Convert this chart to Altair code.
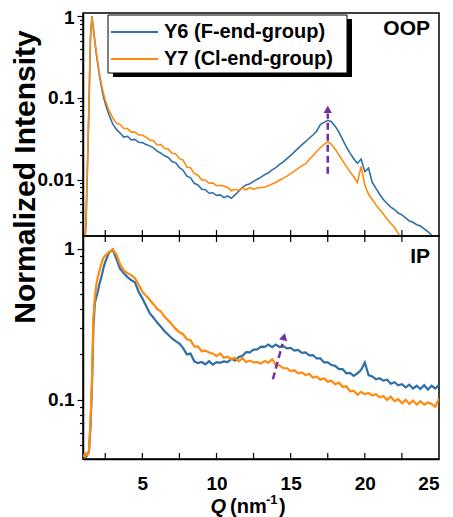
import altair as alt
import pandas as pd

FONT = "Liberation Sans"
BLUE = "#2e6fa8"
ORANGE = "#ff8a0d"
PURPLE = "#7030a0"
SERIES = ["Y6 (F-end-group)", "Y7 (Cl-end-group)"]

# Q sampling grid (nm^-1)
Q_FINE = [1.0, 1.1, 1.2, 1.3, 1.4, 1.5, 1.6, 1.7, 1.8, 1.9, 2.0, 2.1, 2.2, 2.3, 2.4, 2.5]
Q_COARSE = [round(2.75 + 0.25 * i, 2) for i in range(90)]
Q = Q_FINE + Q_COARSE

# OOP (top panel)
OOP_Y6 = [0.0012, 0.0015, 0.0028, 0.014, 0.075, 0.52, 0.99, 0.7, 0.48, 0.34, 0.255, 0.19, 0.15, 0.12, 0.1, 0.085,
          0.062, 0.048, 0.041, 0.037, 0.033, 0.0338, 0.0305, 0.031, 0.0285, 0.0283,
          0.0268, 0.0258, 0.0244, 0.0222, 0.021, 0.0195, 0.0186, 0.0166, 0.016, 0.014,
          0.013, 0.011, 0.0105, 0.009, 0.0086, 0.0076, 0.0075, 0.0068, 0.0069, 0.0064,
          0.0065, 0.006, 0.0063, 0.0059, 0.0065, 0.0072, 0.008, 0.0086, 0.0089, 0.0095,
          0.0101, 0.0107, 0.0115, 0.0121, 0.0131, 0.014, 0.0153, 0.0164, 0.018, 0.0197,
          0.0218, 0.024, 0.0265, 0.029, 0.032, 0.035, 0.039, 0.047, 0.05, 0.053,
          0.051, 0.045, 0.038, 0.031, 0.025, 0.021, 0.018, 0.0158, 0.0178, 0.0125,
          0.0138, 0.0092, 0.0078, 0.0066, 0.0057, 0.0051, 0.0046, 0.0043, 0.0039, 0.0037,
          0.0034, 0.0031, 0.003, 0.0028, 0.0027, 0.0025, 0.0023, 0.0021, 0.0019, 0.0018]
OOP_Y7 = [0.0012, 0.0015, 0.003, 0.015, 0.08, 0.55, 0.97, 0.72, 0.5, 0.36, 0.27, 0.2, 0.16, 0.13, 0.11, 0.093,
          0.07, 0.057, 0.049, 0.047, 0.042, 0.042, 0.038, 0.038, 0.035, 0.035,
          0.033, 0.0305, 0.0298, 0.0265, 0.0268, 0.024, 0.0237, 0.021, 0.0206, 0.018,
          0.0173, 0.0142, 0.0139, 0.0119, 0.0113, 0.0099, 0.0098, 0.009, 0.0091, 0.0084,
          0.0085, 0.0083, 0.008, 0.0073, 0.0076, 0.0074, 0.0079, 0.0075, 0.008, 0.0076,
          0.0079, 0.008, 0.0081, 0.0084, 0.0088, 0.0092, 0.0098, 0.0104, 0.011, 0.0118,
          0.0127, 0.0137, 0.0147, 0.0155, 0.0175, 0.0195, 0.022, 0.0245, 0.027, 0.029,
          0.027, 0.0235, 0.02, 0.017, 0.0145, 0.0125, 0.0108, 0.0092, 0.0145, 0.0085,
          0.0066, 0.0057, 0.0049, 0.0043, 0.0038, 0.0033, 0.0029, 0.0026, 0.0022, 0.0018,
          0.0015, 0.0013, 0.0012, 0.0011, 0.001, 0.001, 0.001, 0.001, 0.001, 0.001]

# IP (bottom panel)
IP_Y6 = [0.044, 0.043, 0.042, 0.044, 0.045, 0.065, 0.12, 0.3, 0.44, 0.48, 0.52, 0.58, 0.63, 0.69, 0.76, 0.82,
         0.94, 0.99, 0.86, 0.74, 0.69, 0.65, 0.62, 0.6, 0.52, 0.47,
         0.42, 0.375, 0.35, 0.325, 0.305, 0.285, 0.27, 0.255, 0.245, 0.236,
         0.22, 0.2, 0.203, 0.18, 0.175, 0.178, 0.172, 0.18, 0.171, 0.178,
         0.176, 0.18, 0.178, 0.187, 0.182, 0.192, 0.196, 0.207, 0.206, 0.215,
         0.216, 0.225, 0.224, 0.232, 0.223, 0.232, 0.224, 0.227, 0.219, 0.221,
         0.212, 0.214, 0.205, 0.206, 0.197, 0.198, 0.188, 0.188, 0.177, 0.177,
         0.17, 0.168, 0.16, 0.16, 0.15, 0.151, 0.144, 0.15, 0.158, 0.177,
         0.146, 0.143, 0.137, 0.139, 0.134, 0.136, 0.128, 0.131, 0.125, 0.127,
         0.121, 0.126, 0.119, 0.124, 0.118, 0.125, 0.117, 0.124, 0.119, 0.126]
IP_Y7 = [0.043, 0.042, 0.044, 0.043, 0.046, 0.07, 0.13, 0.35, 0.48, 0.58, 0.65, 0.71, 0.77, 0.83, 0.88, 0.9,
         0.95, 0.985, 0.92, 0.79, 0.72, 0.69, 0.67, 0.64, 0.58, 0.52,
         0.49, 0.46, 0.43, 0.40, 0.385, 0.355, 0.335, 0.315, 0.295, 0.28,
         0.272, 0.252, 0.248, 0.225, 0.226, 0.21, 0.212, 0.206, 0.203, 0.195,
         0.203, 0.19, 0.193, 0.186, 0.19, 0.18, 0.189, 0.178, 0.182, 0.177,
         0.178, 0.174, 0.181, 0.176, 0.186, 0.17, 0.169, 0.162, 0.162, 0.155,
         0.157, 0.15, 0.152, 0.146, 0.149, 0.14, 0.143, 0.136, 0.139, 0.132,
         0.134, 0.127, 0.13, 0.122, 0.123, 0.114, 0.115, 0.108, 0.113, 0.109,
         0.111, 0.107, 0.109, 0.104, 0.106, 0.1, 0.105, 0.098, 0.101, 0.095,
         0.1, 0.094, 0.099, 0.093, 0.098, 0.093, 0.096, 0.094, 0.09, 0.102]

# arrows (Q, intensity)
OOP_ARROW_Q = [17.5, 17.5]
OOP_ARROW_V = [0.0118, 0.064]
OOP_HEAD = {"q": [17.5], "v": [0.072]}
IP_ARROW_Q = [13.8, 14.45]
IP_ARROW_V = [0.137, 0.235]
IP_HEAD = {"q": [14.55], "v": [0.262]}

X_DOMAIN = [1, 25]
OOP_DOMAIN = [0.00204, 1.087]
IP_DOMAIN = [0.0406, 1.216]
X_LABELS = [5, 10, 15, 20, 25]
X_TICKS = [2.5, 5, 7.5, 10, 12.5, 15, 17.5, 20, 22.5]
OOP_YTICKS = [0.003, 0.004, 0.005, 0.006, 0.007, 0.008, 0.009,
              0.01, 0.02, 0.03, 0.04, 0.05, 0.06, 0.07, 0.08, 0.09,
              0.1, 0.2, 0.3, 0.4, 0.5, 0.6, 0.7, 0.8, 0.9, 1]
IP_YTICKS = [0.05, 0.06, 0.07, 0.08, 0.09,
             0.1, 0.2, 0.3, 0.4, 0.5, 0.6, 0.7, 0.8, 0.9, 1]

W, H = 356, 223

xscale = alt.Scale(domain=X_DOMAIN, nice=False, zero=False)


def yaxis(values, majors, top_nudge=0):
    test = " || ".join(f"datum.value == {m}" for m in majors)
    expr = " : ".join(f"datum.value == {m} ? '{m}'" for m in majors) + " : ''"
    extra = {}
    if top_nudge:
        extra["labelOffset"] = {"condition": {"test": "datum.value == 1", "value": top_nudge}, "value": 0}
    return alt.Axis(values=values, labelExpr=expr, labelOverlap=False,
                    tickSize={"condition": {"test": test, "value": 6}, "value": 3.5},
                    tickColor="black", tickWidth=1.2, labelFontSize=19, labelFontWeight="bold",
                    labelFont=FONT, labelPadding=3, title=None, grid=False, labelColor="black",
                    domainColor="black", domainWidth=1.5, **extra)


def panel(y6, y7, ydomain, yax, xax, arrow_q, arrow_v, head, head_angle, label, label_y, width6, width7):
    yscale = alt.Scale(type="log", domain=ydomain, nice=False)
    df6 = pd.DataFrame({"q": Q, "v": y6})
    df7 = pd.DataFrame({"q": Q, "v": y7})
    X = alt.X("q:Q", scale=xscale, axis=xax)
    Y = alt.Y("v:Q", scale=yscale, axis=yax)
    l6 = alt.Chart(df6).mark_line(color=BLUE, strokeWidth=width6, clip=True).encode(x=X, y=Y)
    l7 = alt.Chart(df7).mark_line(color=ORANGE, strokeWidth=width7, clip=True).encode(x=X, y=Y)
    arr = alt.Chart(pd.DataFrame({"q": arrow_q, "v": arrow_v})).mark_line(
        color=PURPLE, strokeWidth=2.5, strokeDash=[7, 4]).encode(x=X, y=Y)
    hd = alt.Chart(pd.DataFrame(head)).mark_point(
        shape="triangle-up", filled=True, color=PURPLE, size=70, opacity=1, angle=head_angle).encode(x=X, y=Y)
    txt = alt.Chart(pd.DataFrame({"a": [0]})).mark_text(
        text=label, font=FONT, fontSize=21, fontWeight="bold", align="right", baseline="middle",
        color="black").encode(x=alt.value(W - 9), y=alt.value(label_y))
    return [l6, l7, arr, hd, txt], X


# ---------- top panel ----------
top_layers, Xt = panel(OOP_Y6, OOP_Y7, OOP_DOMAIN, yaxis(OOP_YTICKS, [1, 0.1, 0.01], top_nudge=2), None,
                       OOP_ARROW_Q, OOP_ARROW_V, OOP_HEAD, 0, "OOP", 16, 1.6, 1.6)
dummy = pd.DataFrame({"a": [0]})
ticks_top = alt.Chart(pd.DataFrame({"q": X_TICKS})).mark_rule(color="black", strokeWidth=1.2).encode(
    x=Xt, y=alt.value(H - 6), y2=alt.value(H))
shadow = alt.Chart(dummy).mark_rect(color="black").encode(
    x=alt.value(30), x2=alt.value(269), y=alt.value(6), y2=alt.value(64))
box = alt.Chart(dummy).mark_rect(fill="white", stroke="black", strokeWidth=1).encode(
    x=alt.value(25), x2=alt.value(264), y=alt.value(2), y2=alt.value(60))
leg_l6 = alt.Chart(dummy).mark_rule(color=BLUE, strokeWidth=2).encode(
    x=alt.value(28), x2=alt.value(75), y=alt.value(19))
leg_l7 = alt.Chart(dummy).mark_rule(color=ORANGE, strokeWidth=2).encode(
    x=alt.value(28), x2=alt.value(75), y=alt.value(46))
leg_t6 = alt.Chart(dummy).mark_text(text=SERIES[0], font=FONT, fontSize=20, fontWeight="bold",
                                    align="left", baseline="middle", color="black").encode(
    x=alt.value(81), y=alt.value(19))
leg_t7 = alt.Chart(dummy).mark_text(text=SERIES[1], font=FONT, fontSize=20, fontWeight="bold",
                                    align="left", baseline="middle", color="black").encode(
    x=alt.value(81), y=alt.value(46))
ytitle = alt.Chart(dummy).mark_text(text="Normalized Intensity", font=FONT, fontSize=30,
                                    fontWeight="bold", angle=270, align="center",
                                    baseline="middle", color="black").encode(
    x=alt.value(-57), y=alt.value(164))

top = alt.layer(*top_layers, ticks_top, shadow, box, leg_l6, leg_l7, leg_t6, leg_t7, ytitle).properties(
    width=W, height=H)

# ---------- bottom panel ----------
xaxis = alt.Axis(values=X_LABELS, ticks=False, labelFontSize=19, labelFontWeight="bold", labelFont=FONT,
                 labelPadding=15, title=None, grid=False, domainColor="black", domainWidth=1.5,
                 labelColor="black")
bot_layers, Xb = panel(IP_Y6, IP_Y7, IP_DOMAIN, yaxis(IP_YTICKS, [1, 0.1]), xaxis,
                       IP_ARROW_Q, IP_ARROW_V, IP_HEAD, 14, "IP", 21, 2.2, 2.2)
ticks_b1 = alt.Chart(pd.DataFrame({"q": X_TICKS})).mark_rule(color="black", strokeWidth=1.2).encode(
    x=Xb, y=alt.value(0), y2=alt.value(6))
ticks_b2 = alt.Chart(pd.DataFrame({"q": X_TICKS})).mark_rule(color="black", strokeWidth=1.2).encode(
    x=Xb, y=alt.value(H - 6), y2=alt.value(H))
t_q = alt.Chart(dummy).mark_text(text="Q", font=FONT, fontSize=20, fontWeight="bold", fontStyle="italic",
                                 align="right", baseline="middle", color="black").encode(
    x=alt.value(143), y=alt.value(271))
t_nm = alt.Chart(dummy).mark_text(text="(nm", font=FONT, fontSize=20, fontWeight="bold",
                                  align="left", baseline="middle", color="black").encode(
    x=alt.value(147), y=alt.value(271))
t_sup = alt.Chart(dummy).mark_text(text="-1", font=FONT, fontSize=13, fontWeight="bold",
                                   align="left", baseline="middle", color="black").encode(
    x=alt.value(183), y=alt.value(264))
t_par = alt.Chart(dummy).mark_text(text=")", font=FONT, fontSize=20, fontWeight="bold",
                                   align="left", baseline="middle", color="black").encode(
    x=alt.value(196), y=alt.value(271))

bottom = alt.layer(*bot_layers, ticks_b1, ticks_b2, t_q, t_nm, t_sup, t_par).properties(width=W, height=H)

chart = alt.vconcat(top, bottom, spacing=0, bounds="flush").properties(
    padding={"left": 2, "top": 0, "right": 5, "bottom": 8}
).configure_view(stroke="black", strokeWidth=1.5).configure_axis(grid=False)

chart.save("out.html", embed_options={"renderer": "svg", "actions": False})
